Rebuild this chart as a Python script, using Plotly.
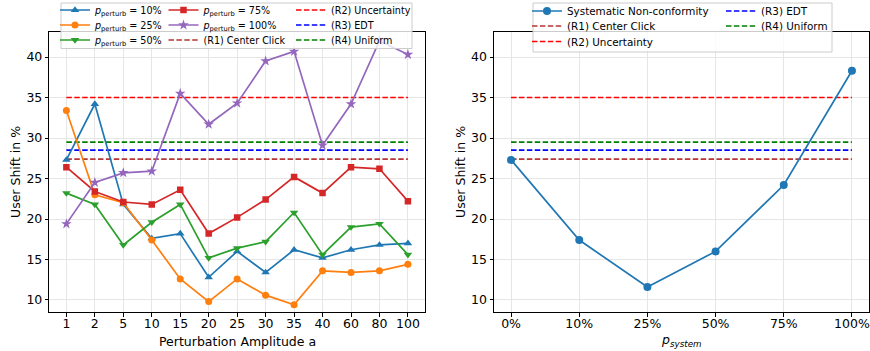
import plotly.graph_objects as go

W, H = 870, 351

# ---------------- data ----------------
amplitudes = ["1", "2", "5", "10", "15", "20", "25", "30", "35", "40", "60", "80", "100"]
p10 = [27.3, 34.2, 21.8, 17.6, 18.2, 12.8, 16.0, 13.4, 16.2, 15.2, 16.2, 16.8, 17.0]
p25 = [33.4, 23.0, 22.0, 17.4, 12.6, 9.8, 12.6, 10.6, 9.4, 13.6, 13.4, 13.6, 14.4]
p50 = [23.2, 21.8, 16.8, 19.6, 21.8, 15.2, 16.4, 17.2, 20.8, 15.6, 19.0, 19.4, 15.6]
p75 = [26.4, 23.4, 22.1, 21.8, 23.6, 18.2, 20.2, 22.4, 25.2, 23.2, 26.4, 26.2, 22.2]
p100 = [19.4, 24.5, 25.7, 25.9, 35.5, 31.7, 34.3, 39.5, 40.7, 29.1, 34.2, 42.0, 40.3]

p_system = ["0%", "10%", "25%", "50%", "75%", "100%"]
systematic = [27.3, 17.4, 11.6, 16.0, 24.2, 38.3]

ref_names = ["(R1) Center Click", "(R2) Uncertainty", "(R3) EDT", "(R4) Uniform"]
ref_values = [27.4, 35.0, 28.5, 29.5]

y_ticks = [10, 15, 20, 25, 30, 35, 40]

# ---------------- style ----------------
FONT = "DejaVu Sans"
series_colors = ["#1f77b4", "#ff7f0e", "#2ca02c", "#d62728", "#9467bd"]
series_symbols = ["triangle-up", "circle", "triangle-down", "square", "star"]
series_sizes = [7.5, 7, 7.5, 6.5, 8]
ref_colors = ["#b83535", "#ff0000", "#0000ff", "#008000"]
DASH = "5.5px,2.4px"
LW = 1.7


def px(x):
    return x / W


def py(y):
    return 1 - y / H


fig = go.Figure()

legend_layouts = {}
legend_count = [0]


def new_legend(xpix, ypix, size):
    legend_count[0] += 1
    n = legend_count[0]
    name = "legend" if n == 1 else f"legend{n}"
    legend_layouts[name] = dict(
        x=px(xpix), y=py(ypix), xanchor="left", yanchor="middle",
        bgcolor="rgba(0,0,0,0)", borderwidth=0, itemwidth=30,
        font=dict(family=FONT, size=size, color="#000"),
    )
    return name


# legend cell positions (legend-left px, row-center px)
L_cols = [55, 163.5, 291]
L_rows = [10, 25, 40]
L_FS = 9.6
R_cols = [527, 721]
R_rows = [11, 26, 41.5]
R_FS = 10.4

# ---------- left subplot: reference lines ----------
left_ref_cells = [(1, 2), (2, 0), (2, 1), (2, 2)]  # (col,row) for R1..R4
for i, (nm, v) in enumerate(zip(ref_names, ref_values)):
    c, r = left_ref_cells[i]
    fig.add_trace(go.Scatter(
        x=[amplitudes[0], amplitudes[-1]], y=[v, v], mode="lines",
        line=dict(color=ref_colors[i], width=LW, dash=DASH),
        name=nm, xaxis="x", yaxis="y",
        legend=new_legend(L_cols[c], L_rows[r], L_FS),
    ))

# ---------- left subplot: series ----------
series = [p10, p25, p50, p75, p100]
labels = ["10%", "25%", "50%", "75%", "100%"]
series_cells = [(0, 0), (0, 1), (0, 2), (1, 0), (1, 1)]
for i, (vals, lab) in enumerate(zip(series, labels)):
    c, r = series_cells[i]
    fig.add_trace(go.Scatter(
        x=amplitudes, y=vals, mode="lines+markers",
        line=dict(color=series_colors[i], width=LW),
        marker=dict(symbol=series_symbols[i], size=series_sizes[i], color=series_colors[i]),
        name=f"<i>p</i><sub>perturb</sub> = {lab}", xaxis="x", yaxis="y",
        legend=new_legend(L_cols[c], L_rows[r], L_FS),
    ))

# ---------- right subplot ----------
right_ref_cells = [(0, 1), (0, 2), (1, 0), (1, 1)]
for i, (nm, v) in enumerate(zip(ref_names, ref_values)):
    c, r = right_ref_cells[i]
    fig.add_trace(go.Scatter(
        x=[p_system[0], p_system[-1]], y=[v, v], mode="lines",
        line=dict(color=ref_colors[i], width=LW, dash=DASH),
        name=nm, xaxis="x2", yaxis="y2",
        legend=new_legend(R_cols[c], R_rows[r], R_FS),
    ))

fig.add_trace(go.Scatter(
    x=p_system, y=systematic, mode="lines+markers",
    line=dict(color="#1f77b4", width=LW),
    marker=dict(symbol="circle", size=8, color="#1f77b4"),
    name="Systematic Non-conformity", xaxis="x2", yaxis="y2",
    legend=new_legend(R_cols[0], R_rows[0], R_FS),
))

# ---------------- axes ----------------
ydom = [py(312.3), py(32)]
axis_common = dict(
    showline=True, linecolor="#000", linewidth=1, mirror=True,
    ticks="outside", ticklen=3.5, tickwidth=0.8, tickcolor="#000",
    showgrid=True, gridcolor="#e6e6e6", gridwidth=0.8,
    zeroline=False, automargin=False,
    tickfont=dict(family=FONT, size=12.5, color="#000"),
)

layout = dict(
    width=W, height=H,
    margin=dict(l=0, r=0, t=0, b=0, autoexpand=False),
    paper_bgcolor="white", plot_bgcolor="white",
    font=dict(family=FONT, color="#000"),
    xaxis=dict(domain=[px(49.3), px(425)], type="category",
               categoryorder="array", categoryarray=amplitudes,
               range=[-0.6, len(amplitudes) - 1 + 0.6], ticklabelstandoff=-4, **axis_common),
    yaxis=dict(domain=ydom, range=[8.48, 43.09], tickvals=y_ticks, anchor="x", **axis_common),
    xaxis2=dict(domain=[px(494), px(869)], type="category",
                categoryorder="array", categoryarray=p_system,
                range=[-0.25, len(p_system) - 1 + 0.25], anchor="y2", ticklabelstandoff=-4,
                **axis_common),
    yaxis2=dict(domain=ydom, range=[8.48, 43.09], tickvals=y_ticks, anchor="x2", **axis_common),
    showlegend=True,
)
layout.update(legend_layouts)
fig.update_layout(**layout)

# legend frames
for x0, x1, y0, y1 in [(61, 412, 3, 48.5), (533, 832, 3, 52)]:
    fig.add_shape(type="rect", xref="paper", yref="paper",
                  x0=px(x0), x1=px(x1), y0=py(y1), y1=py(y0),
                  fillcolor="rgba(255,255,255,0.8)",
                  line=dict(color="#cccccc", width=1), layer="above")

# axis titles
title_font = dict(family=FONT, size=12.5, color="#000")
ann = dict(xref="paper", yref="paper", showarrow=False, font=title_font,
           xanchor="center", yanchor="middle")
fig.add_annotation(text="User Shift in %", x=px(15), y=py(172), textangle=-90, **ann)
fig.add_annotation(text="User Shift in %", x=px(460), y=py(172), textangle=-90, **ann)
fig.add_annotation(text="Perturbation Amplitude a", x=px(237), y=py(341.5), **ann)
fig.add_annotation(text="<i>p<sub>system</sub></i>", x=px(681.5), y=py(340), **ann)

fig.write_html(
    "out.html",
    config={"displayModeBar": False},
    post_script="document.body.style.margin='0';document.body.style.overflow='hidden';",
)
